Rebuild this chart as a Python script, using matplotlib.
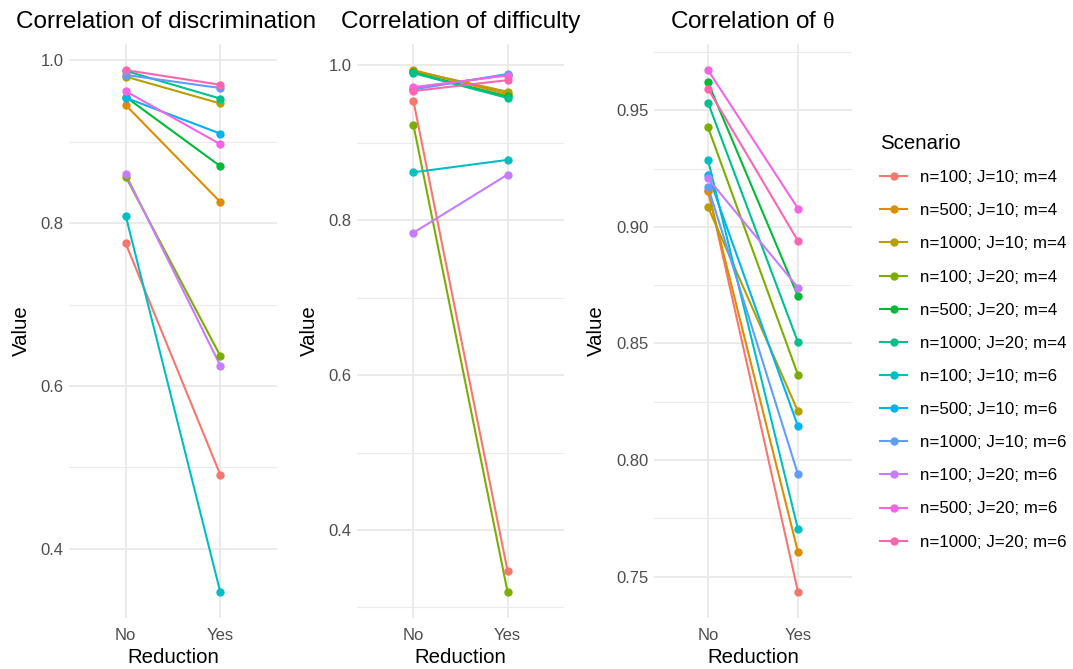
import numpy as np
import matplotlib
matplotlib.use("Agg")
import matplotlib.pyplot as plt
from matplotlib.lines import Line2D

plt.rcParams['font.family'] = ['Liberation Sans', 'DejaVu Sans']
plt.rcParams['mathtext.fontset'] = 'custom'
plt.rcParams['mathtext.rm'] = 'Liberation Serif'

# data -------------------------------------------------------------
scenarios = ["n=100; J=10; m=4", "n=500; J=10; m=4", "n=1000; J=10; m=4",
             "n=100; J=20; m=4", "n=500; J=20; m=4", "n=1000; J=20; m=4",
             "n=100; J=10; m=6", "n=500; J=10; m=6", "n=1000; J=10; m=6",
             "n=100; J=20; m=6", "n=500; J=20; m=6", "n=1000; J=20; m=6"]
reduction = ["No", "Yes"]

disc_no = [0.775, 0.945, 0.980, 0.857, 0.955, 0.987, 0.809, 0.954, 0.982, 0.860, 0.962, 0.988]
disc_yes = [0.491, 0.826, 0.947, 0.637, 0.870, 0.953, 0.347, 0.910, 0.966, 0.625, 0.897, 0.970]

diff_no = [0.954, 0.994, 0.993, 0.923, 0.991, 0.990, 0.862, 0.970, 0.969, 0.784, 0.972, 0.967]
diff_yes = [0.347, 0.963, 0.966, 0.320, 0.960, 0.958, 0.878, 0.988, 0.989, 0.859, 0.987, 0.981]

theta_no = [0.916, 0.9153, 0.9085, 0.9428, 0.962, 0.9533, 0.9288, 0.9225, 0.9172, 0.9208, 0.9673, 0.9593]
theta_yes = [0.7434, 0.7605, 0.8209, 0.8365, 0.8703, 0.8505, 0.7702, 0.8144, 0.7938, 0.874, 0.9079, 0.894]

colors = ["#F8766D", "#DE8C00", "#B79F00", "#7CAE00", "#00BA38", "#00C08B",
          "#00BFC4", "#00B4F0", "#619CFF", "#C77CFF", "#F564E3", "#FF64B0"]

# layout -----------------------------------------------------------
W, H = 1073, 669
fig = plt.figure(figsize=(W / 100, H / 100), dpi=100)

def px_axes(left, right, top, bottom):
    return fig.add_axes([left / W, 1 - bottom / H, (right - left) / W, (bottom - top) / H])

panels = [
    dict(no=disc_no, yes=disc_yes, title="Correlation of discrimination", tx=166,
         box=(69, 277), major=[0.4, 0.6, 0.8, 1.0], minor=[0.3, 0.5, 0.7, 0.9], fmt="{:.1f}"),
    dict(no=diff_no, yes=diff_yes, title="Correlation of difficulty", tx=461,
         box=(357, 564), major=[0.4, 0.6, 0.8, 1.0], minor=[0.3, 0.5, 0.7, 0.9], fmt="{:.1f}"),
    dict(no=theta_no, yes=theta_yes, title=r"Correlation of $\mathrm{\theta}$", tx=752,
         box=(654, 852), major=[0.75, 0.80, 0.85, 0.90, 0.95],
         minor=[0.725, 0.775, 0.825, 0.875, 0.925, 0.975], fmt="{:.2f}"),
]

for p in panels:
    ax = px_axes(p["box"][0], p["box"][1], 44, 618)
    x = np.arange(len(reduction)) + 1
    for i in range(len(scenarios)):
        ax.plot(x, [p["no"][i], p["yes"][i]], color=colors[i], lw=1.5,
                solid_capstyle='butt', zorder=3)
    for i in range(len(scenarios)):
        ax.plot(x, [p["no"][i], p["yes"][i]], 'o', color=colors[i], ms=6,
                mew=0, zorder=4)

    lo = min(p["no"] + p["yes"])
    hi = max(p["no"] + p["yes"])
    pad = (hi - lo) * 0.05
    ax.set_ylim(lo - pad, hi + pad)
    ax.set_xlim(0.4, 2.6)

    ax.set_xticks(x)
    ax.set_xticklabels(reduction)
    ax.set_yticks(p["major"])
    ax.set_yticklabels([p["fmt"].format(v) for v in p["major"]])
    ax.set_yticks([m for m in p["minor"] if lo - pad < m < hi + pad], minor=True)

    ax.grid(True, which='major', color='#EBEBEB', lw=1.4, zorder=0)
    ax.grid(True, which='minor', axis='y', color='#EBEBEB', lw=0.8, zorder=0)
    ax.set_axisbelow(True)
    for s in ax.spines.values():
        s.set_visible(False)
    ax.tick_params(which='both', length=0, labelsize=12, labelcolor='#4D4D4D')
    ax.tick_params(axis='x', pad=7)
    ax.tick_params(axis='y', pad=4)

    ax.set_xlabel("Reduction", fontsize=14.7, labelpad=4)
    ax.set_ylabel("Value", fontsize=14.7, labelpad=7)

    fig.text(p["tx"] / W, 1 - 28 / H, p["title"], fontsize=17.5, ha='center', va='baseline')

# legend -----------------------------------------------------------
handles = [Line2D([0], [0], color=c, lw=1.5, marker='o', ms=6, mew=0) for c in colors]
leg = fig.legend(handles, scenarios, loc='upper left', bbox_to_anchor=(872 / W, 1 - 126 / H),
                 frameon=False, fontsize=12.2, title="Scenario", title_fontsize=14.7,
                 handlelength=1.56, handletextpad=0.8, labelspacing=1.07,
                 borderpad=0, alignment='left')
leg._legend_box.sep = 12

fig.savefig("out.png", dpi=100)
